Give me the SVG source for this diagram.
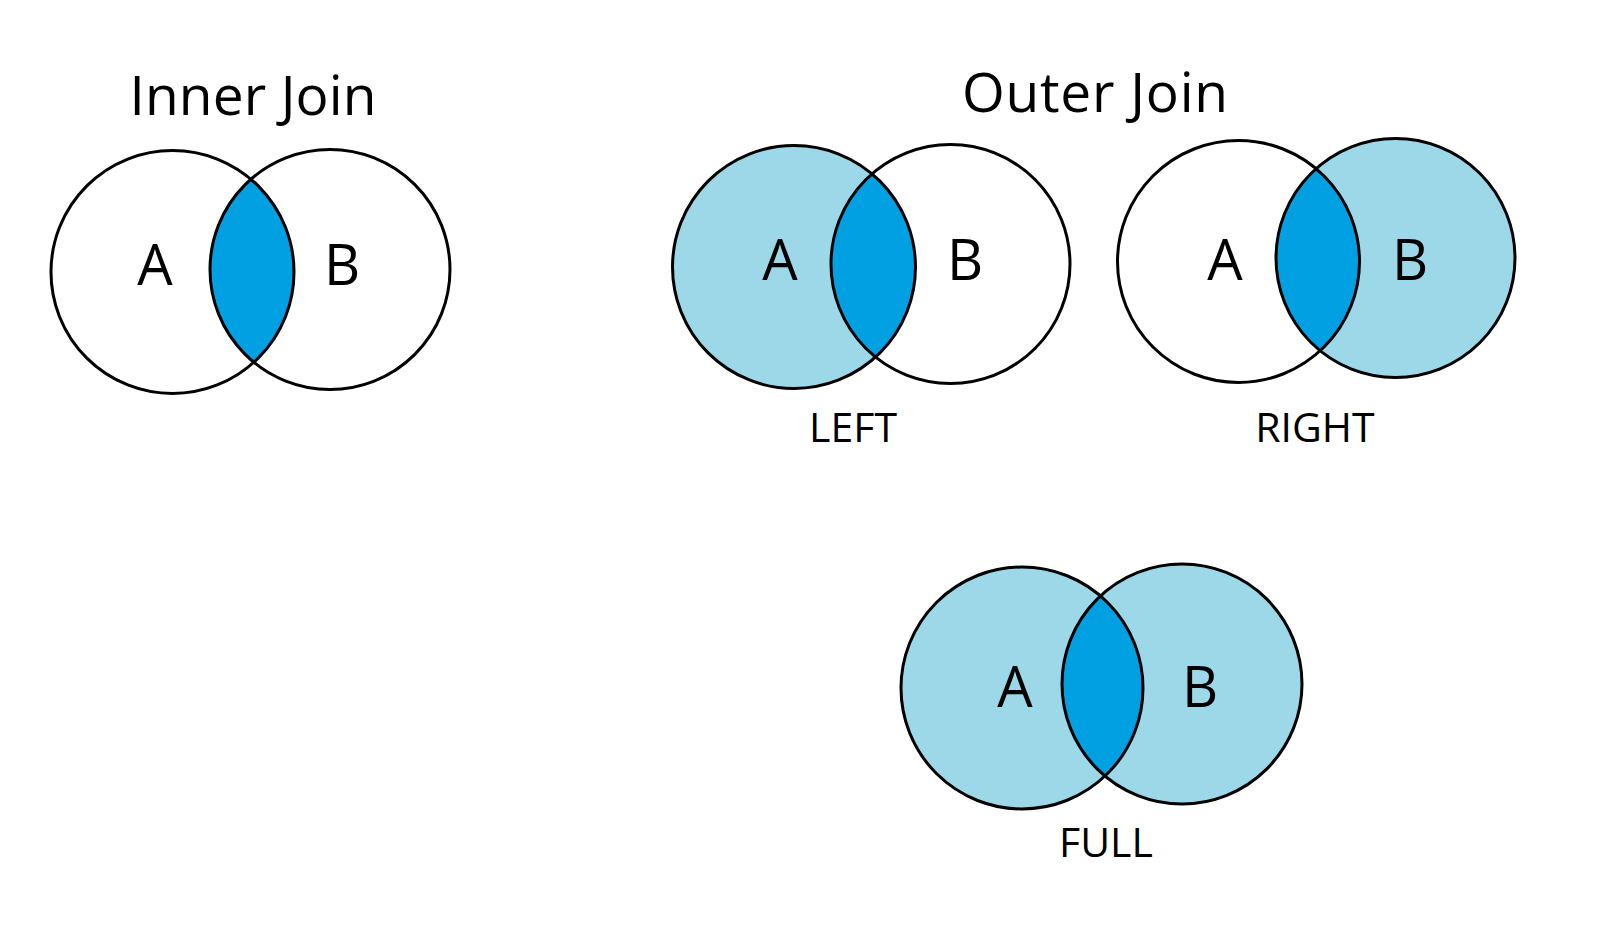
<svg xmlns="http://www.w3.org/2000/svg" width="1600" height="952" viewBox="0 0 1600 952">
<style>
.c{stroke:#000;stroke-width:3;fill:none}
.l{fill:#9DD8E9}
.d{fill:#00A0E3}
text{font-family:"Open Sans","Liberation Sans",sans-serif;fill:#000;text-anchor:middle}
.t{font-size:55px}
.s{font-size:56px}
.lab{font-size:41px}
</style>
<defs>
<clipPath id="clipInner"><circle cx="172.5" cy="272" r="121.5"/></clipPath>
<clipPath id="clipLeft"><circle cx="794" cy="267" r="121.5"/></clipPath>
<clipPath id="clipRight"><circle cx="1238.5" cy="261.5" r="121"/></clipPath>
<clipPath id="clipFull"><circle cx="1022" cy="688" r="121"/></clipPath>
</defs>
<rect width="1600" height="952" fill="#fff"/>

<g id="title-inner"><text class="t" x="253" y="115" textLength="247" lengthAdjust="spacing">Inner Join</text></g>
<g id="title-outer"><text class="t" x="1095" y="112" textLength="266" lengthAdjust="spacing">Outer Join</text></g>

<g id="inner-join">
<circle class="d" cx="330" cy="269.5" r="120" clip-path="url(#clipInner)"/>
<circle class="c" cx="172.5" cy="272" r="121.5"/>
<circle class="c" cx="330" cy="269.5" r="120"/>
<text class="s" x="155" y="285">A</text>
<text class="s" x="342" y="285">B</text>
</g>

<g id="left-join">
<circle class="l" cx="794" cy="267" r="121.5"/>
<circle class="d" cx="950.5" cy="264" r="119.5" clip-path="url(#clipLeft)"/>
<circle class="c" cx="794" cy="267" r="121.5"/>
<circle class="c" cx="950.5" cy="264" r="119.5"/>
<text class="s" x="780" y="280">A</text>
<text class="s" x="965" y="280">B</text>
<text class="lab" x="853" y="442">LEFT</text>
</g>

<g id="right-join">
<circle class="l" cx="1395.5" cy="258" r="119.5"/>
<circle class="d" cx="1395.5" cy="258" r="119.5" clip-path="url(#clipRight)"/>
<circle class="c" cx="1238.5" cy="261.5" r="121"/>
<circle class="c" cx="1395.5" cy="258" r="119.5"/>
<text class="s" x="1225" y="280">A</text>
<text class="s" x="1410" y="280">B</text>
<text class="lab" x="1315" y="442">RIGHT</text>
</g>

<g id="full-join">
<circle class="l" cx="1022" cy="688" r="121"/>
<circle class="l" cx="1182" cy="684" r="120"/>
<circle class="d" cx="1182" cy="684" r="120" clip-path="url(#clipFull)"/>
<circle class="c" cx="1022" cy="688" r="121"/>
<circle class="c" cx="1182" cy="684" r="120"/>
<text class="s" x="1015" y="707">A</text>
<text class="s" x="1200" y="707">B</text>
<text class="lab" x="1106" y="857">FULL</text>
</g>

<g id="connectors"/>
</svg>
